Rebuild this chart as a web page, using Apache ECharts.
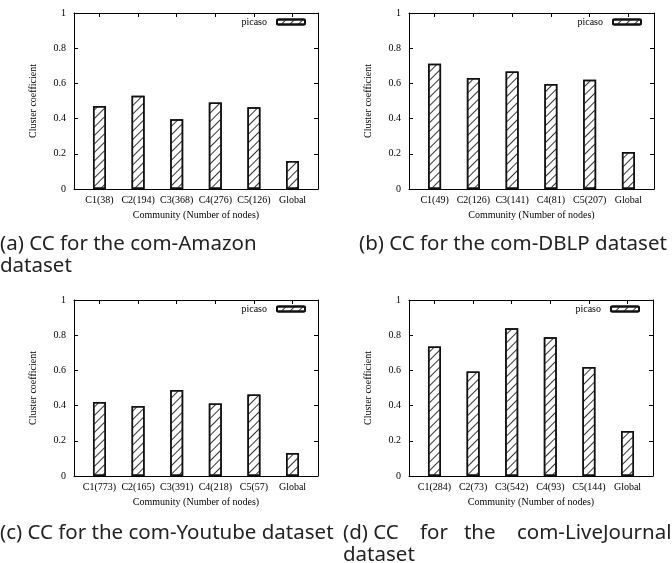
<!DOCTYPE html>
<html>
<head>
<meta charset="utf-8">
<script src="https://cdn.jsdelivr.net/npm/echarts@6/dist/echarts.min.js"></script>
<style>
  html, body { margin: 0; padding: 0; background: #fff; }
  #chart { width: 672px; height: 563px; }
</style>
</head>
<body>
<div id="chart"></div>
<script>
// categories per dataset
const catsAmazon = ["C1(38)", "C2(194)", "C3(368)", "C4(276)", "C5(126)", "Global"];
const catsDblp = ["C1(49)", "C2(126)", "C3(141)", "C4(81)", "C5(207)", "Global"];
const catsYoutube = ["C1(773)", "C2(165)", "C3(391)", "C4(218)", "C5(57)", "Global"];
const catsLive = ["C1(284)", "C2(73)", "C3(542)", "C4(93)", "C5(144)", "Global"];

// cluster coefficient values
const ccAmazon = [0.471, 0.530, 0.397, 0.492, 0.464, 0.159];
const ccDblp = [0.712, 0.631, 0.668, 0.597, 0.621, 0.210];
const ccYoutube = [0.421, 0.398, 0.488, 0.412, 0.463, 0.131];
const ccLive = [0.736, 0.594, 0.839, 0.788, 0.620, 0.256];

const serif = "Liberation Serif";
const capFont = "Noto Sans";

const panels = [
  { cats: catsAmazon, vals: ccAmazon, grid: { left: 74, top: 13, width: 244, height: 176 }, legend: { right: 366, top: 17 } },
  { cats: catsDblp, vals: ccDblp, grid: { left: 409, top: 13, width: 245, height: 176 }, legend: { right: 30, top: 17 } },
  { cats: catsYoutube, vals: ccYoutube, grid: { left: 74, top: 300, width: 244, height: 176 }, legend: { right: 366, top: 304 } },
  { cats: catsLive, vals: ccLive, grid: { left: 409, top: 300, width: 244, height: 176 }, legend: { right: 32, top: 304 } },
];

const idx = [0, 1, 2, 3, 4, 5];
const grids = [], xAxes = [], yAxes = [], series = [], legends = [];

const tickStyle = { inside: true, length: 4, lineStyle: { color: "#000", width: 1 } };
const lineStyle = { show: true, onZero: false, lineStyle: { color: "#000", width: 1 } };

panels.forEach((p, i) => {
  grids.push(Object.assign({ containLabel: false }, p.grid));
  xAxes.push({
    type: "value", gridIndex: i, min: -0.66, max: 5.66, position: "bottom",
    axisLine: lineStyle,
    axisTick: Object.assign({ customValues: idx }, tickStyle),
    axisLabel: {
      customValues: idx, formatter: (v) => p.cats[Math.round(v)],
      fontFamily: serif, fontSize: 10, color: "#000", margin: 6,
    },
    splitLine: { show: false },
    name: "Community (Number of nodes)", nameLocation: "middle", nameGap: 21,
    nameTextStyle: { fontFamily: serif, fontSize: 10, color: "#000" },
  });
  xAxes.push({
    type: "value", gridIndex: i, min: -0.66, max: 5.66, position: "top",
    axisLine: lineStyle,
    axisTick: Object.assign({ customValues: idx }, tickStyle),
    axisLabel: { show: false },
    splitLine: { show: false },
  });
  yAxes.push({
    type: "value", gridIndex: i, min: 0, max: 1, interval: 0.2, position: "left",
    axisLine: lineStyle, axisTick: tickStyle,
    axisLabel: { fontFamily: serif, fontSize: 10, color: "#000", margin: 8 },
    splitLine: { show: false },
    name: "Cluster coefficient", nameLocation: "middle", nameGap: 36, nameRotate: 90,
    nameTextStyle: { fontFamily: serif, fontSize: 10, color: "#000" },
  });
  yAxes.push({
    type: "value", gridIndex: i, min: 0, max: 1, interval: 0.2, position: "right",
    axisLine: lineStyle, axisTick: tickStyle,
    axisLabel: { show: false }, splitLine: { show: false },
  });
  series.push({
    name: "picaso", type: "bar",
    xAxisIndex: i * 2, yAxisIndex: i * 2,
    barWidth: 13,
    data: p.vals.map((v, k) => [k, v]),
    itemStyle: {
      color: "#fff", borderColor: "#111", borderWidth: 1.5,
      decal: {
        symbol: "rect", symbolSize: 1, color: "#333",
        dashArrayX: [1, 0], dashArrayY: [1, 5], rotation: -Math.PI / 4,
      },
    },
    animation: false,
  });
  legends.push({
    right: p.legend.right, top: p.legend.top, padding: 0,
    align: "right", itemWidth: 28, itemHeight: 5, itemGap: 0,
    data: [{ name: "picaso" }],
    textStyle: { fontFamily: serif, fontSize: 10, color: "#000", padding: [0, 5, 0, 0] },
    selectedMode: false,
  });
});

const capStyle = { fontFamily: capFont, fontSize: 20.5, color: "#222", fontWeight: "normal", lineHeight: 22 };
const titles = [
  { text: "(a) CC for the com-Amazon\ndataset", left: 0, top: 233 },
  { text: "(b) CC for the com-DBLP dataset", left: 359, top: 233 },
  { text: "(c) CC for the com-Youtube dataset", left: 0, top: 522 },
  { text: "(d) CC    for   the    com-LiveJournal\ndataset", left: 343, top: 522 },
].map((t) => Object.assign({ padding: 0, textStyle: capStyle }, t));

const chart = echarts.init(document.getElementById("chart"));
chart.setOption({
  backgroundColor: "#fff",
  animation: false,
  title: titles,
  grid: grids,
  xAxis: xAxes,
  yAxis: yAxes,
  legend: legends,
  series: series,
});
</script>
</body>
</html>
